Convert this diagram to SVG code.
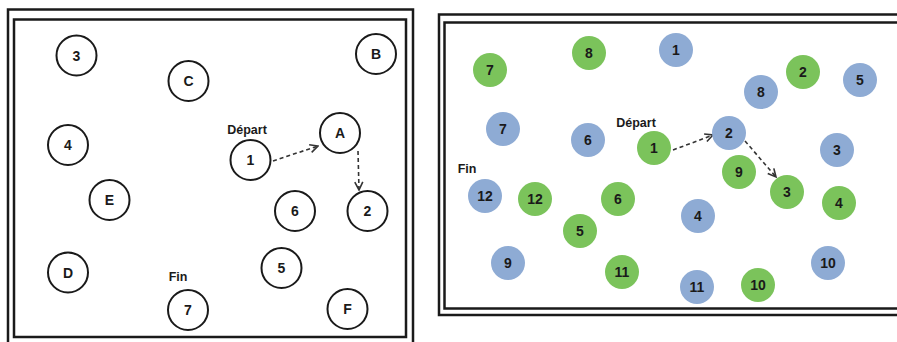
<svg xmlns="http://www.w3.org/2000/svg" width="897" height="342" viewBox="0 0 897 342">
<defs>
<style>
.frame{fill:none;stroke:#1a1a1a;stroke-width:2.5}
.on{fill:#fff;stroke:#1a1a1a;stroke-width:2}
.g{fill:#7bc35b}
.b{fill:#8eabd4}
.t{font-family:"Liberation Sans",Arial,sans-serif;font-weight:bold;font-size:14px;fill:#1a1a1a;text-anchor:middle;dominant-baseline:central}
.lbl{font-family:"Liberation Sans",Arial,sans-serif;font-weight:bold;font-size:12.5px;fill:#1a1a1a;text-anchor:middle}
.c{fill:none;stroke:#333;stroke-width:1.6;stroke-dasharray:4 3}
</style>
<marker id="ah" viewBox="0 0 10 10" refX="9" refY="5" markerWidth="10" markerHeight="10" markerUnits="userSpaceOnUse" orient="auto">
<path d="M1,1 L9,5 L1,9" fill="none" stroke="#333" stroke-width="1.6"/>
</marker>
</defs>
<rect width="897" height="342" fill="#fff"/>
<g id="frames">
<rect class="frame" x="8" y="9.5" width="405" height="336"/>
<rect class="frame" x="14" y="19.5" width="392" height="317.5"/>
<rect class="frame" x="439" y="14.5" width="462" height="300.5"/>
<rect class="frame" x="444.5" y="22.5" width="456" height="286"/>
</g>
<g id="labels">
<text class="lbl" x="247" y="134">Départ</text>
<text class="lbl" x="178" y="281">Fin</text>
<text class="lbl" x="636" y="127">Départ</text>
<text class="lbl" x="467" y="173">Fin</text>
</g>
<g id="connectors">
<path class="c" d="M273,161 L318,146" marker-end="url(#ah)"/>
<path class="c" d="M358,151 L359,190" marker-end="url(#ah)"/>
<path class="c" d="M673,150 L713,135" marker-end="url(#ah)"/>
<path class="c" d="M745,141 L776,177" marker-end="url(#ah)"/>
</g>
<g id="left-nodes">
<g id="L3"><circle class="on" cx="76.5" cy="55.5" r="20"/><text class="t" x="76.5" y="55.5">3</text></g>
<g id="LC"><circle class="on" cx="188.5" cy="81" r="20"/><text class="t" x="188.5" y="81">C</text></g>
<g id="LB"><circle class="on" cx="376" cy="54" r="20"/><text class="t" x="376" y="54">B</text></g>
<g id="L4"><circle class="on" cx="68" cy="145" r="20"/><text class="t" x="68" y="145">4</text></g>
<g id="LA"><circle class="on" cx="340" cy="133" r="20"/><text class="t" x="340" y="133">A</text></g>
<g id="L1"><circle class="on" cx="250.5" cy="160" r="20"/><text class="t" x="250.5" y="160">1</text></g>
<g id="LE"><circle class="on" cx="109.5" cy="200" r="20"/><text class="t" x="109.5" y="200">E</text></g>
<g id="L6"><circle class="on" cx="295" cy="211" r="20"/><text class="t" x="295" y="211">6</text></g>
<g id="L2"><circle class="on" cx="367.5" cy="211" r="20"/><text class="t" x="367.5" y="211">2</text></g>
<g id="LD"><circle class="on" cx="68" cy="272.5" r="20"/><text class="t" x="68" y="272.5">D</text></g>
<g id="L5"><circle class="on" cx="281.5" cy="268" r="20"/><text class="t" x="281.5" y="268">5</text></g>
<g id="L7"><circle class="on" cx="188" cy="310" r="20"/><text class="t" x="188" y="310">7</text></g>
<g id="LF"><circle class="on" cx="347.5" cy="309" r="20"/><text class="t" x="347.5" y="309">F</text></g>
</g>
<g id="right-nodes">
<g id="G7"><circle class="g" cx="490" cy="70" r="17"/><text class="t" x="490" y="70">7</text></g>
<g id="G8"><circle class="g" cx="589" cy="53" r="17"/><text class="t" x="589" y="53">8</text></g>
<g id="B1"><circle class="b" cx="676" cy="50" r="17"/><text class="t" x="676" y="50">1</text></g>
<g id="G2"><circle class="g" cx="803" cy="72" r="17"/><text class="t" x="803" y="72">2</text></g>
<g id="B5"><circle class="b" cx="860" cy="80" r="17"/><text class="t" x="860" y="80">5</text></g>
<g id="B8"><circle class="b" cx="761" cy="92" r="17"/><text class="t" x="761" y="92">8</text></g>
<g id="B7"><circle class="b" cx="503" cy="129" r="17"/><text class="t" x="503" y="129">7</text></g>
<g id="B6"><circle class="b" cx="588" cy="140" r="17"/><text class="t" x="588" y="140">6</text></g>
<g id="G1"><circle class="g" cx="654" cy="148" r="17"/><text class="t" x="654" y="148">1</text></g>
<g id="B2"><circle class="b" cx="729" cy="133" r="17"/><text class="t" x="729" y="133">2</text></g>
<g id="B3"><circle class="b" cx="837" cy="150" r="17"/><text class="t" x="837" y="150">3</text></g>
<g id="G9"><circle class="g" cx="739" cy="172" r="17"/><text class="t" x="739" y="172">9</text></g>
<g id="B12"><circle class="b" cx="485" cy="196" r="17"/><text class="t" x="485" y="196">12</text></g>
<g id="G12"><circle class="g" cx="535" cy="199" r="17"/><text class="t" x="535" y="199">12</text></g>
<g id="G6"><circle class="g" cx="618" cy="199" r="17"/><text class="t" x="618" y="199">6</text></g>
<g id="G3"><circle class="g" cx="787" cy="192" r="17"/><text class="t" x="787" y="192">3</text></g>
<g id="G4"><circle class="g" cx="839" cy="203" r="17"/><text class="t" x="839" y="203">4</text></g>
<g id="B4"><circle class="b" cx="698" cy="216" r="17"/><text class="t" x="698" y="216">4</text></g>
<g id="G5"><circle class="g" cx="580" cy="231" r="17"/><text class="t" x="580" y="231">5</text></g>
<g id="B9"><circle class="b" cx="508" cy="263" r="17"/><text class="t" x="508" y="263">9</text></g>
<g id="G11"><circle class="g" cx="622" cy="272" r="17"/><text class="t" x="622" y="272">11</text></g>
<g id="B10"><circle class="b" cx="828" cy="263" r="17"/><text class="t" x="828" y="263">10</text></g>
<g id="B11"><circle class="b" cx="697" cy="287" r="17"/><text class="t" x="697" y="287">11</text></g>
<g id="G10"><circle class="g" cx="758" cy="285" r="17"/><text class="t" x="758" y="285">10</text></g>
</g>
</svg>
